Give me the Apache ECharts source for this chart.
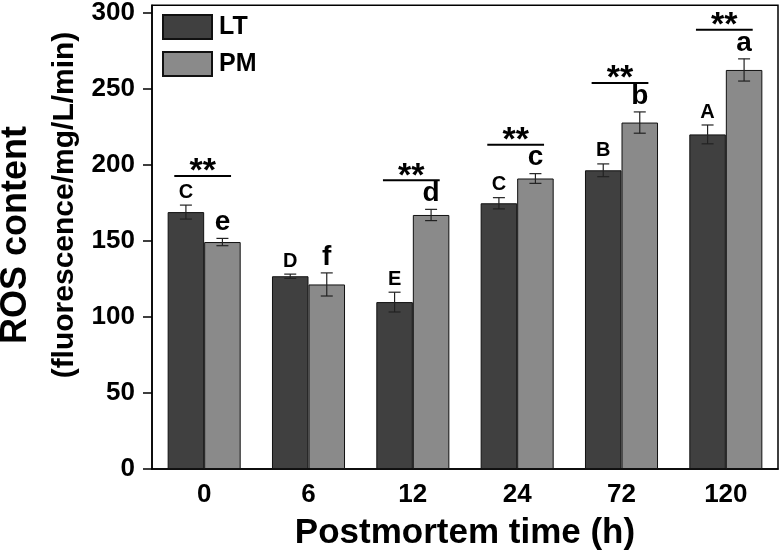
<!DOCTYPE html>
<html><head><meta charset="utf-8">
<script src="https://cdn.jsdelivr.net/npm/echarts@6/dist/echarts.min.js"></script>
<style>html,body{margin:0;padding:0;background:#fff}#c{width:780px;height:556px}</style>
</head><body><div id="c"></div>
<script>
const categories = ['0', '6', '12', '24', '72', '120'];
const ltValues = [169.0, 126.8, 109.8, 174.8, 196.5, 220.1];
const ltErrors = [4.6, 1.4, 6.5, 3.7, 4.2, 6.2];
const pmValues = [149.3, 121.4, 167.1, 191.1, 227.9, 262.5];
const pmErrors = [2.4, 7.6, 3.7, 3.2, 7.0, 7.3];
const ltLetters = ['C', 'D', 'E', 'C', 'B', 'A'];
const pmLetters = ['e', 'f', 'd', 'c', 'b', 'a'];
const sigMarks = ['**', '', '**', '**', '**', '**'];
const yTicks = [0, 50, 100, 150, 200, 250, 300];

const FAM = '"Liberation Sans", Arial, sans-serif';
const chart = echarts.init(document.getElementById('c'), null, {renderer: 'canvas'});

function errBar(x, yLo, yHi, cap) {
  return [
    {type: 'line', shape: {x1: x, y1: yLo, x2: x, y2: yHi}, style: {stroke: '#222', lineWidth: 1.2}},
    {type: 'line', shape: {x1: x - cap, y1: yLo, x2: x + cap, y2: yLo}, style: {stroke: '#222', lineWidth: 1.2}},
    {type: 'line', shape: {x1: x - cap, y1: yHi, x2: x + cap, y2: yHi}, style: {stroke: '#222', lineWidth: 1.2}}
  ];
}
function txt(s, x, y, size, va) {
  return {type: 'text', style: {text: s, x: x, y: y, fill: '#000',
    font: 'bold ' + size + 'px ' + FAM, align: 'center', verticalAlign: va,
    textAlign: 'center', textVerticalAlign: va}};
}

function renderAnno(params, api) {
  const i = api.value(0);
  const band = api.size([1, 0])[0];
  const cx = api.coord([i, 0])[0];
  const off = band * 0.175;
  const lv = api.value(1), le = api.value(2), pv = api.value(3), pe = api.value(4);
  const xl = cx - off, xp = cx + off;
  const lTop = api.coord([i, lv + le])[1], lBot = api.coord([i, lv - le])[1];
  const pTop = api.coord([i, pv + pe])[1], pBot = api.coord([i, pv - pe])[1];
  let ch = [];
  ch = ch.concat(errBar(xl, lBot, lTop, 6));
  ch = ch.concat(errBar(xp, pBot, pTop, 6));
  ch.push(txt(ltLetters[i], xl, lTop - 3, 20, 'bottom'));
  ch.push(txt(pmLetters[i], xp, pTop - 2, 28, 'bottom'));
  if (sigMarks[i]) {
    const ly = Math.min(lTop, pTop) - 29;
    const hw = band * 0.272;
    ch.push({type: 'line', shape: {x1: cx - hw - 1.5, y1: ly, x2: cx + hw - 1.5, y2: ly}, style: {stroke: '#000', lineWidth: 2}});
    ch.push(txt(sigMarks[i], cx - 1.5, ly - 4, 34, 'middle'));
  }
  return {type: 'group', children: ch};
}

const option = {
  animation: false,
  backgroundColor: '#fff',
  grid: {left: 152, top: 5, width: 626, height: 466.7, show: true, borderColor: '#000', borderWidth: 1.5, backgroundColor: 'transparent'},
  legend: {
    orient: 'vertical', left: 162, top: 14, padding: 0,
    itemWidth: 49, itemHeight: 24, itemGap: 11, icon: 'rect',
    textStyle: {fontSize: 25, fontWeight: 'bold', color: '#000', fontFamily: FAM, lineHeight: 24, padding: [0, 0, 0, 2]},
    data: ['LT', 'PM']
  },
  xAxis: {
    type: 'category', data: categories,
    axisLine: {lineStyle: {color: '#000', width: 1.5}},
    axisTick: {alignWithLabel: true, length: 8, lineStyle: {color: '#000', width: 1.5}},
    axisLabel: {fontSize: 26, fontWeight: 'bold', color: '#000', fontFamily: FAM, margin: 13},
    name: 'Postmortem time (h)', nameLocation: 'middle', nameGap: 47,
    nameTextStyle: {fontSize: 35, fontWeight: 'bold', color: '#000', fontFamily: FAM}
  },
  yAxis: {
    type: 'value', min: 0, max: 305, interval: 50,
    splitLine: {show: false},
    axisLine: {show: true, lineStyle: {color: '#000', width: 1.5}},
    axisTick: {show: true, length: 9, customValues: yTicks, lineStyle: {color: '#000', width: 1.5}},
    axisLabel: {fontSize: 26, fontWeight: 'bold', color: '#000', fontFamily: FAM, margin: 17, customValues: yTicks}
  },
  graphic: [
    {type: 'text', x: 16, y: 235, rotation: Math.PI / 2,
     style: {text: 'ROS content', font: 'bold 36px ' + FAM, fill: '#000', textAlign: 'center', textVerticalAlign: 'middle', align: 'center', verticalAlign: 'middle'}},
    {type: 'text', x: 65, y: 205, rotation: Math.PI / 2,
     style: {text: '(fluorescence/mg/L/min)', font: 'bold 30px ' + FAM, fill: '#000', textAlign: 'center', textVerticalAlign: 'middle', align: 'center', verticalAlign: 'middle'}}
  ],
  series: [
    {name: 'LT', type: 'bar', data: ltValues, barGap: '0%', barCategoryGap: '30%',
     itemStyle: {color: '#404040', borderColor: '#111', borderWidth: 1}},
    {name: 'PM', type: 'bar', data: pmValues, barGap: '0%', barCategoryGap: '30%',
     itemStyle: {color: '#8a8a8a', borderColor: '#111', borderWidth: 1}},
    {type: 'custom', renderItem: renderAnno, z: 5, clip: false,
     data: categories.map((c, i) => [i, ltValues[i], ltErrors[i], pmValues[i], pmErrors[i]])}
  ]
};
chart.setOption(option);
</script></body></html>
